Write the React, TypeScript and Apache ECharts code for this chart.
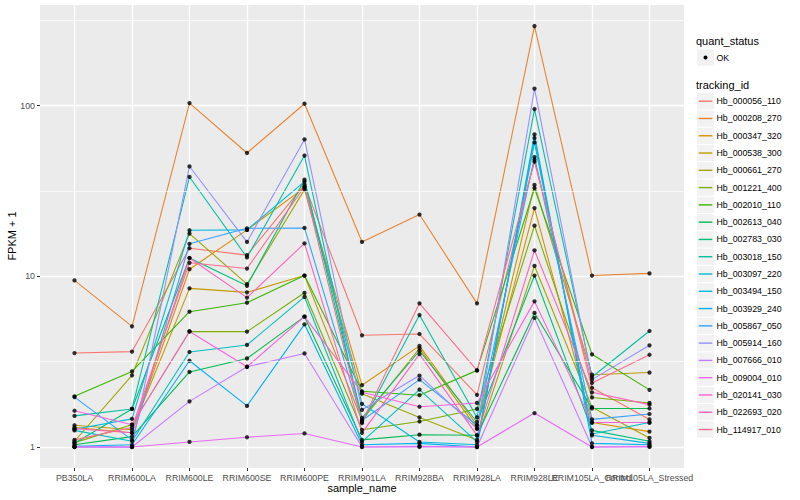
import React, { useEffect, useRef } from "react";
import * as echarts from "echarts";

const samples = [
  "PB350LA", "RRIM600LA", "RRIM600LE", "RRIM600SE", "RRIM600PE", "RRIM901LA",
  "RRIM928BA", "RRIM928LA", "RRIM928LE", "RRIM105LA_Control", "RRIM105LA_Stressed",
];

const trackingIds = [
  "Hb_000056_110", "Hb_000208_270", "Hb_000347_320", "Hb_000538_300", "Hb_000661_270",
  "Hb_001221_400", "Hb_002010_110", "Hb_002613_040", "Hb_002783_030", "Hb_003018_150",
  "Hb_003097_220", "Hb_003494_150", "Hb_003929_240", "Hb_005867_050", "Hb_005914_160",
  "Hb_007666_010", "Hb_009004_010", "Hb_020141_030", "Hb_022693_020", "Hb_114917_010",
];

const trackColors = [
  "#F8766D", "#EA8331", "#D89000", "#C09B00", "#A3A500", "#7CAE00", "#39B600",
  "#00BB4E", "#00BF7D", "#00C1A3", "#00BFC4", "#00BAE0", "#00B0F6", "#35A2FF",
  "#9590FF", "#C77CFF", "#E76BF3", "#FA62DB", "#FF62BC", "#FF6C91",
];

// FPKM + 1 per sample (same order as samples)
const hb000056_110 = [3.55, 3.62, 14.6, 13.3, 34.4, 4.51, 4.59, 2.02, 48.2, 2.22, 1.45];
const hb000208_270 = [9.46, 5.09, 103.5, 52.8, 102.6, 15.9, 23.0, 6.94, 292.6, 10.1, 10.4];
const hb000347_320 = [1.3, 1.21, 11.0, 18.7, 33.1, 2.3, 3.91, 1.34, 25.1, 1.39, 1.23];
const hb000538_300 = [1.34, 1.26, 8.5, 8.05, 10.1, 1.43, 3.78, 1.28, 34.3, 2.65, 2.73];
const hb000661_270 = [1.08, 2.63, 17.8, 9.0, 32.2, 2.05, 1.49, 1.1, 11.5, 1.71, 1.13];
const hb001221_400 = [1.06, 1.35, 4.75, 4.74, 8.0, 1.26, 1.41, 1.67, 19.8, 1.95, 1.81];
const hb002010_110 = [1.98, 2.77, 6.2, 7.0, 10.1, 2.12, 2.01, 2.81, 32.9, 3.49, 2.16];
const hb002613_040 = [1.03, 1.15, 2.75, 3.3, 5.8, 1.1, 1.18, 1.17, 6.1, 1.68, 1.68];
const hb002783_030 = [1.05, 1.67, 12.8, 8.8, 36.8, 1.48, 3.65, 1.4, 10.1, 1.25, 1.08];
const hb003018_150 = [1.52, 1.67, 38.2, 12.9, 51.0, 1.38, 5.93, 1.49, 95.5, 2.57, 4.78];
const hb003097_220 = [1.25, 1.08, 3.6, 3.96, 7.57, 1.07, 2.17, 1.07, 60.8, 1.19, 1.39];
const hb003494_150 = [1.27, 1.46, 18.6, 18.7, 35.9, 1.79, 1.07, 1.03, 64.6, 1.17, 1.05];
const hb003929_240 = [1.01, 1.03, 3.2, 1.74, 5.23, 1.03, 1.05, 1.0, 67.8, 1.05, 1.03];
const hb005867_050 = [1.96, 1.1, 15.5, 19.1, 19.2, 1.43, 2.48, 1.34, 50.0, 1.45, 1.56];
const hb005914_160 = [1.0, 1.0, 44.0, 15.9, 63.4, 1.65, 2.62, 1.28, 125.6, 2.48, 3.94];
const hb007666_010 = [1.0, 1.0, 1.85, 2.95, 3.53, 1.0, 1.01, 1.0, 5.7, 1.0, 1.01];
const hb009004_010 = [1.0, 1.0, 1.07, 1.14, 1.2, 1.0, 1.0, 1.0, 1.58, 1.0, 1.0];
const hb020141_030 = [1.63, 1.35, 4.75, 2.95, 5.8, 2.09, 1.72, 1.81, 7.13, 1.39, 1.39];
const hb022693_020 = [1.28, 1.21, 12.8, 7.5, 15.6, 1.21, 3.5, 1.17, 14.2, 2.09, 1.77];
const hb114917_010 = [1.1, 1.3, 12.0, 11.1, 33.5, 1.4, 6.94, 2.81, 46.9, 2.37, 3.47];

const trackValues = [
  hb000056_110, hb000208_270, hb000347_320, hb000538_300, hb000661_270,
  hb001221_400, hb002010_110, hb002613_040, hb002783_030, hb003018_150,
  hb003097_220, hb003494_150, hb003929_240, hb005867_050, hb005914_160,
  hb007666_010, hb009004_010, hb020141_030, hb022693_020, hb114917_010,
];

const quantStatus = ["OK"];
const yTickValues = [1, 10, 100];

const FONT = "'Liberation Sans', Arial, Helvetica, sans-serif";

export default function App() {
  const ref = useRef<HTMLDivElement>(null);

  useEffect(() => {
    if (!ref.current) return;
    const chart = echarts.init(ref.current, undefined, { renderer: "svg" });

    const logs = trackValues.flat().map((v) => Math.log10(v));
    const lo = Math.min(...logs);
    const hi = Math.max(...logs);
    const yMin = lo - 0.05 * (hi - lo);
    const yMax = hi + 0.05 * (hi - lo);
    const majorLog = yTickValues.map((v) => Math.log10(v));
    const minorLog = [...majorLog, majorLog[majorLog.length - 1] + 1]
      .map((v) => v - 0.5)
      .filter((v) => v > yMin && v < yMax);
    const xIdx = samples.map((_, i) => i);
    const xEven = xIdx.filter((i) => i % 2 === 0);
    const xOdd = xIdx.filter((i) => i % 2 === 1);

    const lineSeries = trackValues.map((vals, k) => ({
      type: "line",
      name: trackingIds[k],
      data: vals.map((v, i) => [i, Math.log10(v)]),
      symbol: "none",
      lineStyle: { color: trackColors[k], width: 1.1 },
      z: 2,
      silent: true,
    }));

    const pointData: number[][] = [];
    trackValues.forEach((vals) => vals.forEach((v, i) => pointData.push([i, Math.log10(v)])));

    const minorGridSeries = {
      type: "line",
      data: [],
      z: 1,
      silent: true,
      markLine: {
        silent: true,
        symbol: "none",
        label: { show: false },
        lineStyle: { color: "#FFFFFF", width: 0.7, type: "solid" },
        data: minorLog.map((v) => ({ yAxis: v })),
      },
    };

    const legendX = 697;
    const keyW = 17;
    const rowH = 17.28;
    const graphics: any[] = [];
    graphics.push({
      type: "text", x: 696, y: 41,
      style: { text: "quant_status", fill: "#000", fontSize: 11, fontFamily: FONT, verticalAlign: "middle", align: "left" },
    });
    quantStatus.forEach((q, i) => {
      const cy = 57.5 + i * rowH;
      graphics.push({ type: "rect", shape: { x: legendX, y: cy - 8.1, width: keyW, height: 16.2 }, style: { fill: "#F2F2F2" } });
      graphics.push({ type: "circle", shape: { cx: legendX + keyW / 2, cy, r: 2 }, style: { fill: "#000" } });
      graphics.push({
        type: "text", x: 716.5, y: cy,
        style: { text: q, fill: "#000", fontSize: 8.8, fontFamily: FONT, verticalAlign: "middle", align: "left" },
      });
    });
    graphics.push({
      type: "text", x: 696, y: 84.5,
      style: { text: "tracking_id", fill: "#000", fontSize: 11, fontFamily: FONT, verticalAlign: "middle", align: "left" },
    });
    trackingIds.forEach((id, i) => {
      const cy = 101.2 + i * rowH;
      graphics.push({ type: "rect", shape: { x: legendX, y: cy - 8.1, width: keyW, height: 16.2 }, style: { fill: "#F2F2F2" } });
      graphics.push({
        type: "line",
        shape: { x1: legendX + 1.7, y1: cy, x2: legendX + keyW - 1.7, y2: cy },
        style: { stroke: trackColors[i], lineWidth: 1.4 },
      });
      graphics.push({
        type: "text", x: 716.5, y: cy,
        style: { text: id, fill: "#000", fontSize: 8.8, fontFamily: FONT, verticalAlign: "middle", align: "left" },
      });
    });
    graphics.push({
      type: "text", x: 12, y: 236, rotation: Math.PI / 2,
      style: { text: "FPKM + 1", fill: "#000", fontSize: 11, fontFamily: FONT, verticalAlign: "middle", align: "center" },
    });

    const xBase = {
      type: "value",
      min: -0.6,
      max: samples.length - 1 + 0.6,
      position: "bottom",
      axisLine: { show: false, onZero: false },
    };
    const xLabelStyle = {
      formatter: (v: number) => samples[Math.round(v)] ?? "",
      color: "#4D4D4D", fontSize: 8.8, fontFamily: FONT, margin: 5,
      showMinLabel: true, showMaxLabel: true, hideOverlap: false,
    };

    chart.setOption({
      animation: false,
      backgroundColor: "#FFFFFF",
      textStyle: { fontFamily: FONT },
      grid: {
        left: 40, right: 116, top: 5, bottom: 32,
        show: true, backgroundColor: "#EBEBEB", borderWidth: 0,
        containLabel: false, outerBoundsMode: "none",
      },
      xAxis: [
        {
          ...xBase,
          axisTick: { show: true, customValues: xIdx, length: 3, lineStyle: { color: "#333333", width: 1 } },
          axisLabel: { ...xLabelStyle, customValues: xEven },
          splitLine: { show: true, lineStyle: { color: "#FFFFFF", width: 1.4 } },
          name: "sample_name",
          nameLocation: "middle",
          nameGap: 14,
          nameMoveOverlap: false,
          nameTextStyle: { color: "#000", fontSize: 11, fontFamily: FONT },
        },
        {
          ...xBase,
          offset: 0,
          axisTick: { show: false, customValues: xOdd },
          axisLabel: { ...xLabelStyle, customValues: xOdd },
          splitLine: { show: false },
        },
      ],
      yAxis: {
        type: "value",
        min: yMin,
        max: yMax,
        position: "left",
        axisLine: { show: false, onZero: false },
        axisTick: { show: true, customValues: majorLog, length: 3, lineStyle: { color: "#333333", width: 1 } },
        axisLabel: {
          customValues: majorLog,
          formatter: (v: number) => String(Math.round(Math.pow(10, v))),
          color: "#4D4D4D", fontSize: 8.8, fontFamily: FONT, margin: 5,
          showMinLabel: true, showMaxLabel: true,
        },
        splitLine: { show: true, lineStyle: { color: "#FFFFFF", width: 1.4 } },
      },
      series: [
        minorGridSeries,
        ...lineSeries,
        {
          type: "scatter",
          data: pointData,
          symbol: "circle",
          symbolSize: 4.3,
          itemStyle: { color: "#000000" },
          z: 3,
          silent: true,
        },
      ],
      graphic: graphics,
    } as any);

    return () => chart.dispose();
  }, []);

  return (
    <div
      ref={ref}
      style={{ position: "fixed", left: 0, top: 0, width: 800, height: 500, background: "#fff" }}
    />
  );
}
